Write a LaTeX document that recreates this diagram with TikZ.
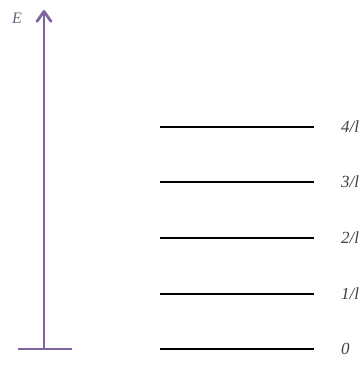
\documentclass[tikz,border=0pt]{standalone}
\usepackage{tikz}
\usepackage{xcolor}
\usepackage{fontspec}
\setmainfont{Liberation Serif}
\usetikzlibrary{arrows.meta,positioning}
\definecolor{axis}{HTML}{8064A2}
\definecolor{labelgray}{HTML}{404040}
\definecolor{elabel}{HTML}{6E6480}
\tikzset{
  energy/.style={line width=2.8pt,draw=axis},
  level/.style={line width=1.6pt,draw=black},
  lvllabel/.style={anchor=west,inner sep=0pt,font=\fontsize{17}{20}\selectfont\itshape,text=labelgray}
}

\begin{document}
\begin{tikzpicture}[x=1pt,y=1pt]
        \useasboundingbox (0,0) rectangle (364,367);
        % energy axis
        \coordinate (base) at (44,18);
        \coordinate (top) at (44,357);
        \coordinate (baseL) at (18,18);
        \coordinate (baseR) at (72,18);
        \draw[energy,-{Straight Barb[length=10pt,width=14pt,round]}] (base) -- (top);
        \draw[energy] (baseL) -- (baseR);
        \node[font=\fontsize{16}{19}\selectfont\itshape,text=elabel] (E) at (17,349) {E};
        % levels
        \foreach \y/\lab [count=\i] in {18/{0},73/{1/l},129/{2/l},185/{3/l},240/{4/l}}{
          \coordinate (l\i a) at (160,\y);
          \coordinate (l\i b) at (314,\y);
          \draw[level] (l\i a) -- (l\i b);
          \node[lvllabel,right=27pt of l\i b] (t\i) {\lab};
        }
      \end{tikzpicture}
\end{document}
